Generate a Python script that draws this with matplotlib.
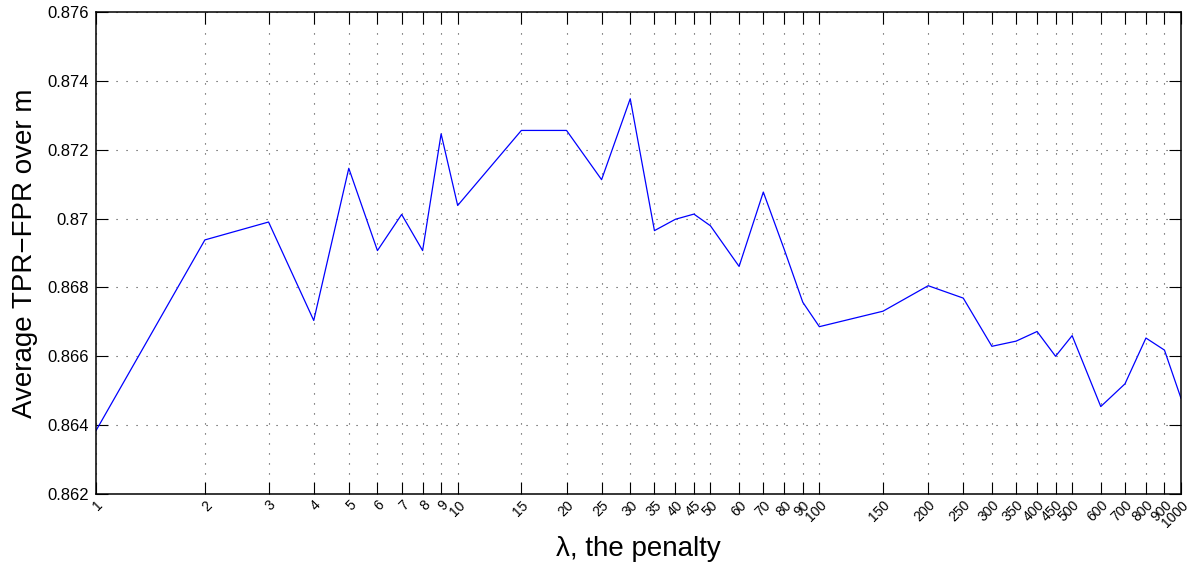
import matplotlib
matplotlib.use("Agg")
import matplotlib.pyplot as plt
from matplotlib.ticker import FixedLocator, FixedFormatter, NullLocator

# penalty values (lambda) and average TPR-FPR
lambdas = [1, 2, 3, 4, 5, 6, 7, 8, 9, 10, 15, 20, 25, 30, 35, 40, 45, 50,
           60, 70, 80, 90, 100, 150, 200, 250, 300, 350, 400, 450, 500,
           600, 700, 800, 900, 1000]
avg_tpr_fpr = [0.86384, 0.86938, 0.86990, 0.86704, 0.87146, 0.86907,
               0.87012, 0.86907, 0.87246, 0.87038, 0.87256, 0.87256,
               0.87113, 0.87348, 0.86965, 0.86998, 0.87013, 0.86979,
               0.86861, 0.87077, 0.86910, 0.86757, 0.86686, 0.86731,
               0.86805, 0.86769, 0.86629, 0.86644, 0.86672, 0.86600,
               0.86660, 0.86454, 0.86520, 0.86653, 0.86618, 0.86478]

x_ticks = lambdas
x_tick_labels = [str(v) for v in lambdas]
y_ticks = [0.862, 0.864, 0.866, 0.868, 0.870, 0.872, 0.874, 0.876]
y_tick_labels = ["0.862", "0.864", "0.866", "0.868", "0.87", "0.872",
                 "0.874", "0.876"]

plt.rcParams["font.family"] = ["Liberation Sans", "DejaVu Sans"]

fig = plt.figure(figsize=(11.93, 5.65), dpi=100)
ax = fig.add_axes([96 / 1193, 71 / 565, (1181 - 96) / 1193, (494 - 12) / 565])

ax.plot(lambdas, avg_tpr_fpr, color=(0, 0, 1), linewidth=0.9)

ax.set_xscale("log")
ax.set_xlim(1, 1000)
ax.set_ylim(0.862, 0.876)

ax.xaxis.set_major_locator(FixedLocator(x_ticks))
ax.xaxis.set_major_formatter(FixedFormatter(x_tick_labels))
ax.xaxis.set_minor_locator(NullLocator())
ax.yaxis.set_major_locator(FixedLocator(y_ticks))
ax.yaxis.set_major_formatter(FixedFormatter(y_tick_labels))

ax.tick_params(axis="both", which="major", direction="in", length=8.5,
               width=0.8, top=True, right=True, colors="black")
ax.tick_params(axis="y", labelsize=12, pad=5)
ax.tick_params(axis="x", labelsize=10, pad=3)
for lbl in ax.get_xticklabels():
    lbl.set_rotation(45)
    lbl.set_rotation_mode("anchor")
    lbl.set_ha("right")
    lbl.set_va("top")

ax.grid(True, which="major", color="0.25", linestyle=(0, (1, 8)),
        linewidth=0.8)

for sp in ax.spines.values():
    sp.set_linewidth(1.1)
    sp.set_color("black")

ax.set_xlabel("λ, the penalty", fontsize=20)
ax.set_ylabel("Average TPR\u2212FPR over m", fontsize=20)
ax.xaxis.set_label_coords(0.5, -0.088)
ax.yaxis.set_label_coords(-0.0535, 0.5)

fig.savefig("out.png", dpi=100)
